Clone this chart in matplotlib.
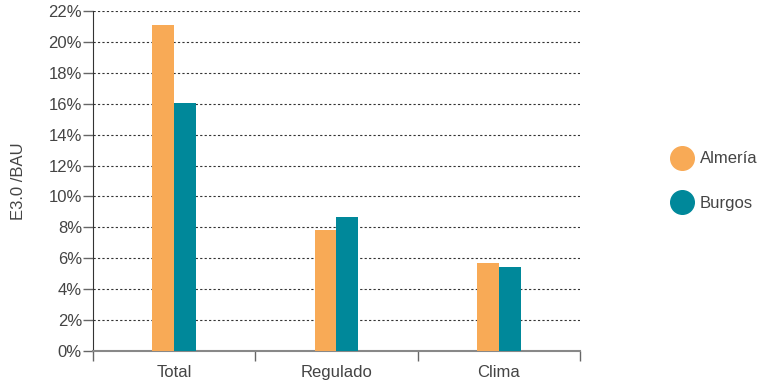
import numpy as np
import matplotlib.pyplot as plt
from matplotlib.lines import Line2D

plt.rcParams['font.family'] = ['Liberation Sans', 'DejaVu Sans']

# Data
categories = ['Total', 'Regulado', 'Clima']
almeria = [21.1, 7.85, 5.7]
burgos = [16.05, 8.7, 5.45]
series_names = ['Almería', 'Burgos']
yticks = np.arange(0, 23, 2)

orange = '#F8AA56'
teal = '#00889A'
text_col = '#444444'

fig = plt.figure(figsize=(7.61, 3.83), dpi=100)
ax = fig.add_axes([93 / 761, 1 - 351 / 383, 487 / 761, 340 / 383])

x = np.arange(len(categories))
w = 0.135
ax.bar(x - w / 2, almeria, w, color=orange, zorder=3)
ax.bar(x + w / 2, burgos, w, color=teal, zorder=3)

ax.set_xlim(-0.5, len(categories) - 0.5)
ax.set_ylim(0, 22)
ax.set_yticks(yticks)
ax.set_yticklabels([f'{v}%' for v in yticks], color=text_col, fontsize=12)
ax.yaxis.grid(True, linestyle=(0, (2, 2)), color='#333333', linewidth=0.8, zorder=0)

# category labels centred, tick marks at the boundaries
ax.set_xticks(x)
ax.set_xticklabels(categories, color=text_col, fontsize=12)
ax.tick_params(axis='x', length=0, pad=10)
ax.set_xticks(np.arange(-0.5, len(categories)), minor=True)
ax.tick_params(axis='x', which='minor', length=7, color='#666666', width=1)
ax.tick_params(axis='y', length=7, color='#666666', width=1, pad=1)

for s in ['top', 'right']:
    ax.spines[s].set_visible(False)
ax.spines['left'].set_color('#333333')
ax.spines['bottom'].set_color('#888888')
ax.spines['bottom'].set_linewidth(1.5)

ax.set_ylabel('E3.0 /BAU', color=text_col, fontsize=12, labelpad=16)

handles = [Line2D([], [], marker='o', linestyle='', markersize=17, color=c)
           for c in (orange, teal)]
fig.legend(handles, series_names, loc='center left', bbox_to_anchor=(654 / 761, 1 - 181 / 383),
           frameon=False, fontsize=12, labelspacing=1.75, handletextpad=0.25,
           handlelength=1.6, labelcolor=text_col)

fig.savefig('out.png', dpi=100)
